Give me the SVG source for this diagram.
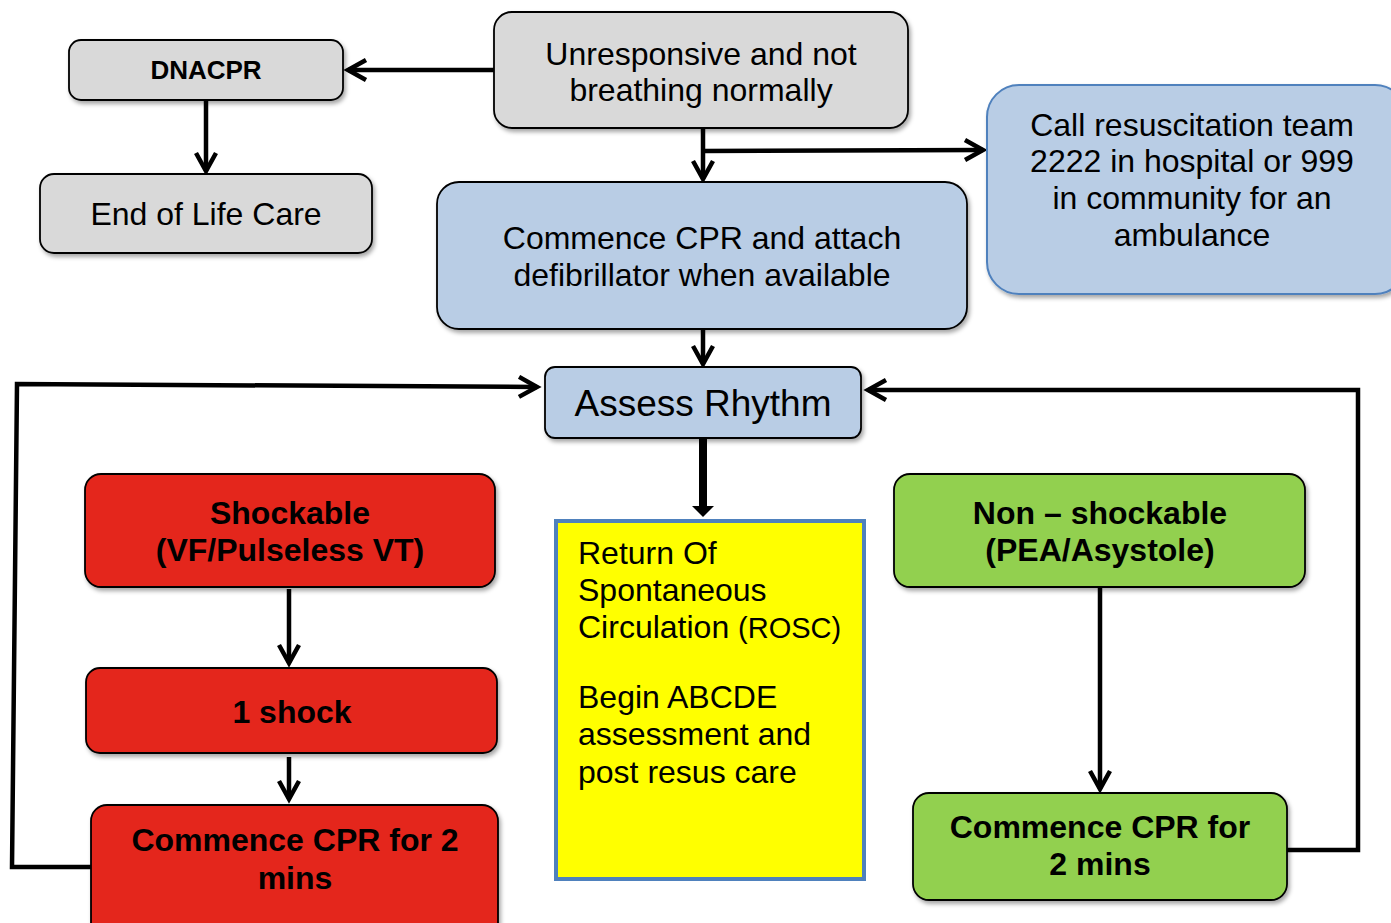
<svg xmlns="http://www.w3.org/2000/svg" width="1391" height="923" viewBox="0 0 1391 923">
<style>
.box{stroke:#000;stroke-width:1.8;filter:url(#sh)}
.gray{fill:#d9d9d9}
.blue{fill:#b9cde5}
.red{fill:#e4271a}
.green{fill:#92d050}
.t{font-family:"Liberation Sans",Arial,sans-serif;font-size:32px;fill:#000;text-anchor:middle}
.b{font-weight:bold}
.c{fill:none;stroke:#000;stroke-width:4.5;marker-end:url(#ah)}
</style>
<defs>
<filter id="sh" x="-10%" y="-10%" width="120%" height="130%">
<feDropShadow dx="2" dy="3" stdDeviation="2" flood-color="#000" flood-opacity="0.35"/>
</filter>
<marker id="ah" markerUnits="userSpaceOnUse" markerWidth="26" markerHeight="26" refX="20" refY="12" orient="auto" viewBox="0 0 26 26">
<path d="M2,2 L20,12 L2,22" fill="none" stroke="#000" stroke-width="4.5"/>
</marker>
</defs>
<rect width="1391" height="923" fill="#fff"/>
<g id="connectors">
<line class="c" x1="494" y1="70" x2="348" y2="70"/>
<line class="c" x1="206" y1="100" x2="206" y2="171"/>
<line class="c" x1="703" y1="128" x2="703" y2="179"/>
<line class="c" x1="703" y1="151" x2="983" y2="150"/>
<line class="c" x1="703" y1="329" x2="703" y2="364"/>
<line x1="703" y1="438" x2="703" y2="508" stroke="#000" stroke-width="8"/>
<polygon points="692,506 714,506 703,517" fill="#000"/>
<polyline class="c" points="91,867 12,867 17,384 537,387"/>
<polyline class="c" points="1287,850 1358,850 1358,390 868,390"/>
<line class="c" x1="289" y1="589" x2="289" y2="663"/>
<line class="c" x1="289" y1="757" x2="289" y2="799"/>
<line class="c" x1="1100" y1="587" x2="1100" y2="789"/>
</g>
<g id="dnacpr">
<rect class="box gray" x="69" y="40" width="274" height="60" rx="12"/>
<text class="t b" x="206" y="79" style="font-size:26px">DNACPR</text>
</g>
<g id="end-of-life">
<rect class="box gray" x="40" y="174" width="332" height="79" rx="14"/>
<text class="t" x="206" y="225">End of Life Care</text>
</g>
<g id="unresponsive">
<rect class="box gray" x="494" y="12" width="414" height="116" rx="18"/>
<text class="t" x="701" y="65">Unresponsive and not</text>
<text class="t" x="701" y="101">breathing normally</text>
</g>
<g id="call-team">
<rect x="987" y="85" width="420" height="209" rx="32" fill="#b9cde5" stroke="#4f81bd" stroke-width="2" filter="url(#sh)"/>
<text class="t" x="1192" y="136">Call resuscitation team</text>
<text class="t" x="1192" y="172">2222 in hospital or 999</text>
<text class="t" x="1192" y="209">in community for an</text>
<text class="t" x="1192" y="246">ambulance</text>
</g>
<g id="commence-cpr">
<rect class="box blue" x="437" y="182" width="530" height="147" rx="22"/>
<text class="t" x="702" y="249">Commence CPR and attach</text>
<text class="t" x="702" y="286">defibrillator when available</text>
</g>
<g id="assess">
<rect class="box blue" x="545" y="367" width="316" height="71" rx="10"/>
<text class="t" x="703" y="416" style="font-size:37px">Assess Rhythm</text>
</g>
<g id="shockable">
<rect class="box red" x="85" y="474" width="410" height="113" rx="16"/>
<text class="t b" x="290" y="524">Shockable</text>
<text class="t b" x="290" y="561">(VF/Pulseless VT)</text>
</g>
<g id="one-shock">
<rect class="box red" x="86" y="668" width="411" height="85" rx="14"/>
<text class="t b" x="292" y="723">1 shock</text>
</g>
<g id="cpr-shockable">
<rect class="box red" x="91" y="805" width="407" height="140" rx="16"/>
<text class="t b" x="295" y="851">Commence CPR for 2</text>
<text class="t b" x="295" y="889">mins</text>
</g>
<g id="rosc">
<rect x="556" y="521" width="308" height="358" fill="#ffff00" stroke="#4f81bd" stroke-width="4"/>
<text class="t" x="578" y="564" style="text-anchor:start">Return Of</text>
<text class="t" x="578" y="601" style="text-anchor:start">Spontaneous</text>
<text class="t" x="578" y="638" style="text-anchor:start">Circulation <tspan style="font-size:29px">(ROSC)</tspan></text>
<text class="t" x="578" y="708" style="text-anchor:start">Begin ABCDE</text>
<text class="t" x="578" y="745" style="text-anchor:start">assessment and</text>
<text class="t" x="578" y="783" style="text-anchor:start">post resus care</text>
</g>
<g id="non-shockable">
<rect class="box green" x="894" y="474" width="411" height="113" rx="16"/>
<text class="t b" x="1100" y="524">Non – shockable</text>
<text class="t b" x="1100" y="561">(PEA/Asystole)</text>
</g>
<g id="cpr-non-shockable">
<rect class="box green" x="913" y="793" width="374" height="107" rx="16"/>
<text class="t b" x="1100" y="838">Commence CPR for</text>
<text class="t b" x="1100" y="875">2 mins</text>
</g>
</svg>
